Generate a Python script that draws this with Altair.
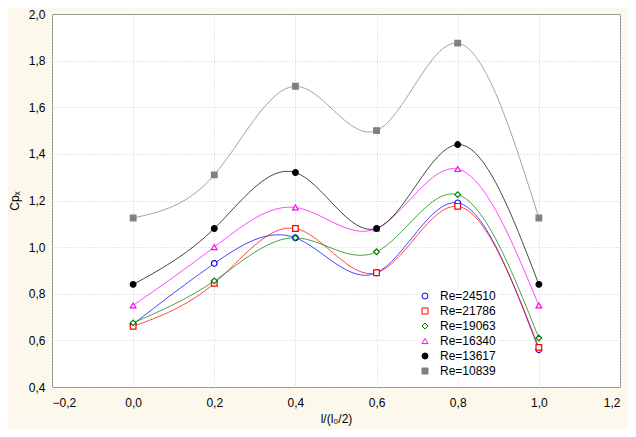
import altair as alt
import pandas as pd

x_vals = [0.0, 0.2, 0.4, 0.6, 0.8, 1.0]
series_names = ["Re=24510", "Re=21786", "Re=19063", "Re=16340", "Re=13617", "Re=10839"]
re_24510 = [0.67, 0.93, 1.04, 0.89, 1.19, 0.56]
re_21786 = [0.66, 0.845, 1.08, 0.89, 1.175, 0.57]
re_19063 = [0.675, 0.855, 1.04, 0.98, 1.225, 0.61]
re_16340 = [0.75, 1.0, 1.17, 1.08, 1.335, 0.75]
re_13617 = [0.84, 1.08, 1.32, 1.08, 1.44, 0.84]
re_10839 = [1.125, 1.31, 1.69, 1.50, 1.875, 1.125]
series_values = [re_24510, re_21786, re_19063, re_16340, re_13617, re_10839]

colors = ["#0000FF", "#FF0000", "#008000", "#FF00FF", "#000000", "#808080"]
shapes = ["circle", "square", "diamond", "triangle-up", "circle", "square"]
fills = ["#FFFFFF", "#FFFFFF", "#FFFFFF", "#FFFFFF", "#000000", "#808080"]

rows = []
for name, vals in zip(series_names, series_values):
    for xv, yv in zip(x_vals, vals):
        rows.append({"x": xv, "y": yv, "series": name})
df = pd.DataFrame(rows)

fmt = "replace(format(datum.value, '.1f'), '.', ',')"

x_enc = alt.X("x:Q", scale=alt.Scale(domain=[-0.2, 1.2], nice=False, zero=False),
              axis=alt.Axis(values=[-0.2, 0.0, 0.2, 0.4, 0.6, 0.8, 1.0, 1.2], labelExpr=fmt,
                            title="l/(l₀/2)", titlePadding=5, labelPadding=10, tickSize=0,
                            domain=False, gridDash=[1, 2], gridColor="#CFCFCF"))
y_enc = alt.Y("y:Q", scale=alt.Scale(domain=[0.4, 2.0], nice=False, zero=False),
              axis=alt.Axis(values=[0.4, 0.6, 0.8, 1.0, 1.2, 1.4, 1.6, 1.8, 2.0], labelExpr=fmt,
                            title="Cpₓ", titlePadding=7, labelPadding=7, tickSize=0,
                            domain=False, gridDash=[1, 2], gridColor="#CFCFCF"))

stroke_scale = alt.Scale(domain=series_names, range=colors)
shape_scale = alt.Scale(domain=series_names, range=shapes)
fill_scale = alt.Scale(domain=series_names, range=fills)

legend = alt.Legend(title=None, orient="none", legendX=365, legendY=274,
                    labelFontSize=12, labelFont="Liberation Sans", labelColor="#000000",
                    rowPadding=3, symbolSize=36, symbolStrokeWidth=1, labelOffset=9,
                    fillColor="#FFFFFF", padding=2)

lines = alt.Chart(df).mark_line(interpolate="natural", strokeWidth=1, strokeOpacity=0.72).encode(
    x=x_enc, y=y_enc,
    stroke=alt.Stroke("series:N", scale=stroke_scale, legend=legend),
    detail="series:N",
)
points = alt.Chart(df).mark_point(filled=False, size=32, strokeWidth=1.2, opacity=1).encode(
    x=x_enc, y=y_enc,
    stroke=alt.Stroke("series:N", scale=stroke_scale, legend=legend),
    shape=alt.Shape("series:N", scale=shape_scale, legend=legend),
    fill=alt.Fill("series:N", scale=fill_scale, legend=legend),
)

chart = alt.layer(lines, points).properties(
    width=568, height=373,
    autosize=alt.AutoSizeParams(type="none"),
    padding={"left": 44, "top": 6, "right": 8, "bottom": 42},
    background="#FDF8EC",
).configure_view(
    fill="#FFFFFF", stroke="#7F7F7F", strokeWidth=1,
).configure_axis(
    labelFont="Liberation Sans", labelFontSize=12, labelColor="#000000",
    titleFont="Liberation Sans", titleFontSize=12, titleColor="#000000", titleFontWeight="normal",
)

chart.save("out.html", embed_options={"renderer": "svg", "actions": False})
